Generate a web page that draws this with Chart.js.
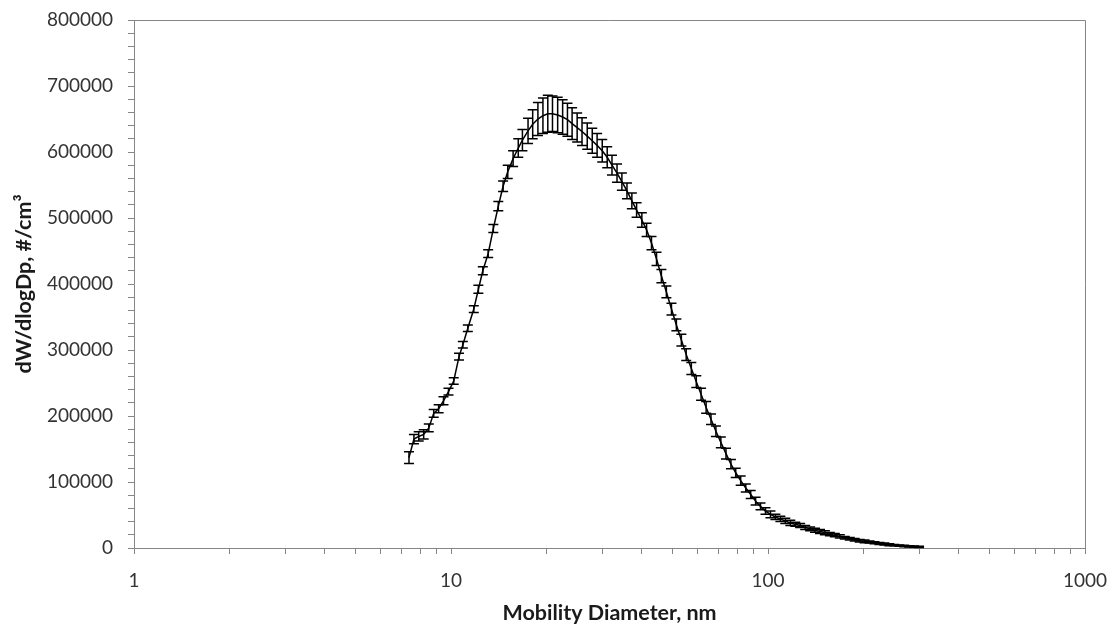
<!DOCTYPE html>
<html><head><meta charset="utf-8">
<script src="https://cdn.jsdelivr.net/npm/chart.js@4"></script>
<style>html,body{margin:0;padding:0;background:#fff}canvas{display:block}</style>
</head><body>
<canvas id="c" width="1111" height="627"></canvas>
<script>
// Mobility diameter channels (nm)
const diameters = [7.37,7.64,7.91,8.20,8.51,8.82,9.14,9.47,9.82,10.2,10.6,10.9,11.3,11.8,12.2,12.6,13.1,13.6,14.1,14.6,15.1,15.7,16.3,16.8,17.5,18.1,18.8,19.5,20.2,20.9,21.7,22.5,23.3,24.1,25.0,25.9,26.9,27.9,28.9,30.0,31.1,32.2,33.4,34.6,35.9,37.2,38.5,40.0,41.4,42.9,44.5,46.1,47.8,49.6,51.4,53.3,55.2,57.3,59.4,61.5,63.8,66.1,68.5,71.0,73.7,76.4,79.1,82.0,85.1,88.2,91.4,94.7,98.2,101.8,105.5,109.4,113.4,117.6,121.9,126.3,131.0,135.8,140.7,145.9,151.2,156.8,162.5,168.5,174.7,181.1,187.7,194.6,201.7,209.1,216.7,224.7,232.9,241.4,250.3,259.5,269.0,278.8,289.0,299.6];
// dW/dlogDp values (#/cm3)
const dWdlogDp = [137000,165000,169000,172000,182000,204000,211000,223000,237000,253000,290000,308000,333000,362000,392000,420000,446000,484000,518000,548000,570000,590000,606000,618000,632000,642000,650000,655000,658000,658000,656000,653000,649000,643000,637000,631000,624000,617000,610000,602000,592000,580000,568000,555000,541000,526000,512000,497000,482000,462000,438000,412000,388000,362000,338000,315000,293000,272000,252000,233000,213000,195000,177000,160000,143000,127000,114000,102000,91000,81000,71000,63000,56000,51000,47000,44000,41000,38000,36000,34000,31000,29000,27000,25000,23000,21000,19500,17500,15500,14000,12500,11000,10000,9000,7800,6800,5900,5000,4300,3600,3000,2500,2000,1600];
// error bar half-heights (#/cm3)
const errors = [9000,7000,7000,7000,6000,6000,6000,6000,5000,5000,5000,5000,5000,5000,6000,6000,6000,6000,7000,8000,10000,12000,14000,16000,19000,22000,25000,27000,28000,27000,27000,26000,25000,24000,22000,21000,20000,19000,18000,17000,16000,15000,14000,13000,12000,12000,11000,11000,10000,10000,10000,10000,9000,9000,9000,9000,9000,9000,9000,9000,9000,8000,8000,8000,8000,7000,7000,7000,6000,6000,6000,5000,5000,5000,4000,4000,4000,4000,3000,3000,3000,3000,3000,3000,3000,2500,2500,2500,2000,2000,2000,2000,2000,1500,1500,1500,1500,1500,1000,1000,1000,1000,1000,1000];
// axis ticks
const xTickValues = [1,2,3,4,5,6,7,8,9,10,20,30,40,50,60,70,80,90,100,200,300,400,500,600,700,800,900,1000];
const xTickLabels = {1:'1',10:'10',100:'100',1000:'1000'};
const yMin = 0, yMax = 800000, yMinorStep = 20000, yLabelStep = 100000;

const AXIS = '#868686';
const TICKFONT = {family:'Lato', size:19};
const TITLEFONT = {family:'Lato', size:21.5, weight:'bold'};

const errorBars = {
  id:'errorBars',
  afterDatasetsDraw(chart){
    const {ctx, scales:{x, y}} = chart;
    ctx.save();
    ctx.strokeStyle = '#000';
    ctx.lineWidth = 1.5;
    diameters.forEach((d, i) => {
      const px = x.getPixelForValue(d);
      const top = y.getPixelForValue(dWdlogDp[i] + errors[i]);
      const bot = y.getPixelForValue(dWdlogDp[i] - errors[i]);
      ctx.beginPath();
      ctx.moveTo(px, top); ctx.lineTo(px, bot);
      ctx.moveTo(px - 5, top); ctx.lineTo(px + 5, top);
      ctx.moveTo(px - 5, bot); ctx.lineTo(px + 5, bot);
      ctx.stroke();
    });
    ctx.restore();
  }
};
const frame = {
  id:'frame',
  beforeDatasetsDraw(chart){
    const {ctx, chartArea:a} = chart;
    ctx.save();
    ctx.strokeStyle = AXIS; ctx.lineWidth = 1;
    ctx.beginPath();
    ctx.moveTo(a.left, Math.round(a.top) + 0.5);
    ctx.lineTo(Math.round(a.right) + 0.5, Math.round(a.top) + 0.5);
    ctx.lineTo(Math.round(a.right) + 0.5, a.bottom);
    ctx.stroke();
    ctx.restore();
  }
};

new Chart(document.getElementById('c'), {
  type: 'scatter',
  data: {
    datasets: [{
      data: diameters.map((d, i) => ({x: d, y: dWdlogDp[i]})),
      showLine: true,
      borderColor: '#000',
      borderWidth: 1.5,
      pointRadius: 0,
      tension: 0
    }]
  },
  options: {
    responsive: false,
    animation: false,
    layout: {padding: {top: 20, right: 26, left: 0, bottom: 0}},
    plugins: {legend: {display: false}, tooltip: {enabled: false}},
    scales: {
      x: {
        type: 'logarithmic', min: 1, max: 1000,
        afterBuildTicks: s => { s.ticks = xTickValues.map(v => ({value: v})); },
        afterFit: s => { s.height = 79; s.paddingLeft = 0; s.paddingRight = 0; },
        ticks: {autoSkip: false, maxRotation: 0, padding: 15, color: '#333', font: TICKFONT,
                callback: v => xTickLabels[v] !== undefined ? xTickLabels[v] : ''},
        grid: {display: true, drawOnChartArea: false, drawTicks: true, tickLength: 6, color: AXIS},
        border: {display: true, color: AXIS, width: 1},
        title: {display: true, text: 'Mobility Diameter, nm', color: '#1a1a1a', font: TITLEFONT, padding: {top: 0, bottom: 1}}
      },
      y: {
        type: 'linear', min: yMin, max: yMax,
        afterFit: s => { s.width = 134; s.paddingTop = 0; s.paddingBottom = 0; },
        ticks: {stepSize: yMinorStep, autoSkip: false, padding: 15, color: '#333', font: TICKFONT,
                callback: v => (v % yLabelStep === 0) ? String(v) : ''},
        grid: {display: true, drawOnChartArea: false, drawTicks: true, tickLength: 6, color: AXIS},
        border: {display: true, color: AXIS, width: 1},
        title: {display: true, text: 'dW/dlogDp, #/cm³', color: '#1a1a1a', font: TITLEFONT, padding: {top: 11, bottom: 0}}
      }
    }
  },
  plugins: [frame, errorBars]
});
</script>
</body></html>
